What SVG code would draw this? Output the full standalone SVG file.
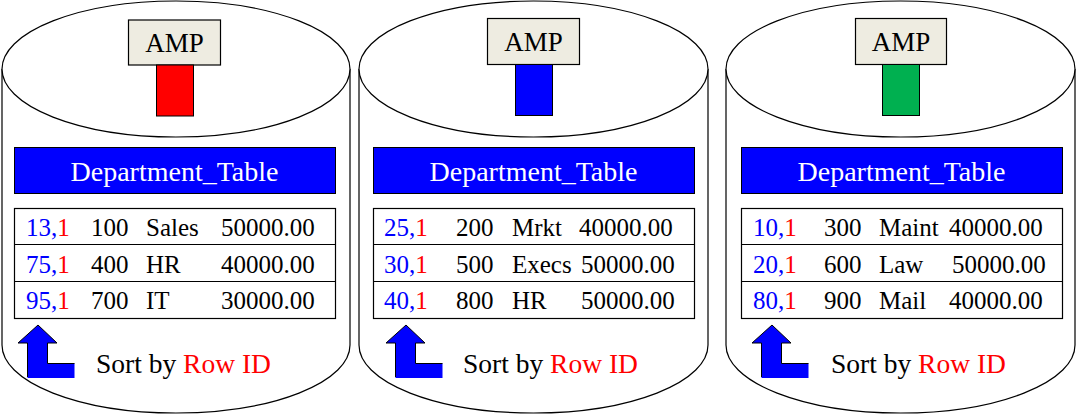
<svg xmlns="http://www.w3.org/2000/svg" width="1076" height="414" viewBox="0 0 1076 414" font-family="'Liberation Serif', 'Times New Roman', 'DejaVu Serif', serif">
<style>
.cyl{fill:#fff;stroke:#000;stroke-width:1.2}
.amp{fill:#EEECE1;stroke:#000;stroke-width:1.2}
.hdr{fill:#0000FF;stroke:#000;stroke-width:1}
.tbl{fill:#fff;stroke:#000;stroke-width:1.2}
.ln{stroke:#000;stroke-width:1.2}
.t-amp{font-size:27px;fill:#000;text-anchor:middle}
.t-hdr{font-size:28px;fill:#fff;text-anchor:middle}
.t-row{font-size:25px;fill:#000}
.b{fill:#0000FF}
.r{fill:#FF0000}
.t-sort{font-size:27.5px;fill:#000}
.arw{fill:#0000FF;stroke:none}
.arwl{fill:none;stroke:#000;stroke-width:1}
</style>
<defs>
<g id="arrow">
<polygon class="arw" points="0,0 19,18 9.5,18 9.5,38.5 36.5,38.5 36.5,53 -10.5,53 -10.5,18 -20,18"/>
<polyline class="arwl" points="-10.5,52 -10.5,18 -20,18 0,0 19,18 9.5,18 9.5,38.5 36.5,38.5"/>
</g>
</defs>

<g id="node-amp1">
<path class="cyl" d="M2,69 L2,345 A174,68 0 0 0 350,345 L350,69"/>
<ellipse class="cyl" cx="176" cy="69" rx="174" ry="68"/>
<rect class="amp" x="128.5" y="20" width="92" height="45"/>
<text class="t-amp" x="174.5" y="52">AMP</text>
<rect x="156.5" y="65" width="37" height="51" fill="#FF0000" stroke="#000" stroke-width="1"/>
<rect class="hdr" x="14.5" y="147.5" width="321" height="46"/>
<text class="t-hdr" x="174.5" y="181">Department_Table</text>
<rect class="tbl" x="14.5" y="208.5" width="321" height="110"/>
<line class="ln" x1="14.5" y1="244.5" x2="335.5" y2="244.5"/>
<line class="ln" x1="14.5" y1="281.5" x2="335.5" y2="281.5"/>
<text class="t-row" y="236"><tspan x="26" class="b">13,</tspan><tspan class="r">1</tspan><tspan x="91">100</tspan><tspan x="146">Sales</tspan><tspan x="221">50000.00</tspan></text>
<text class="t-row" y="273"><tspan x="26" class="b">75,</tspan><tspan class="r">1</tspan><tspan x="91">400</tspan><tspan x="146">HR</tspan><tspan x="221">40000.00</tspan></text>
<text class="t-row" y="309"><tspan x="26" class="b">95,</tspan><tspan class="r">1</tspan><tspan x="91">700</tspan><tspan x="146">IT</tspan><tspan x="221">30000.00</tspan></text>
<use href="#arrow" x="38" y="325"/>
<text class="t-sort" x="96" y="373">Sort by <tspan class="r">Row ID</tspan></text>
</g>

<g id="node-amp2">
<path class="cyl" d="M359,69 L359,345 A174.5,68 0 0 0 708,345 L708,69"/>
<ellipse class="cyl" cx="533.5" cy="69" rx="174.5" ry="68"/>
<rect class="amp" x="487.5" y="18.5" width="92" height="46"/>
<text class="t-amp" x="533.5" y="51">AMP</text>
<rect x="515.5" y="64.5" width="37" height="51" fill="#0000FF" stroke="#000" stroke-width="1"/>
<rect class="hdr" x="373.5" y="147.5" width="321" height="46"/>
<text class="t-hdr" x="533.5" y="181">Department_Table</text>
<rect class="tbl" x="373.5" y="208.5" width="321" height="110"/>
<line class="ln" x1="373.5" y1="244.5" x2="694.5" y2="244.5"/>
<line class="ln" x1="373.5" y1="281.5" x2="694.5" y2="281.5"/>
<text class="t-row" y="236"><tspan x="384" class="b">25,</tspan><tspan class="r">1</tspan><tspan x="456">200</tspan><tspan x="512">Mrkt</tspan><tspan x="579">40000.00</tspan></text>
<text class="t-row" y="273"><tspan x="384" class="b">30,</tspan><tspan class="r">1</tspan><tspan x="456">500</tspan><tspan x="512">Execs</tspan><tspan x="581">50000.00</tspan></text>
<text class="t-row" y="309"><tspan x="384" class="b">40,</tspan><tspan class="r">1</tspan><tspan x="456">800</tspan><tspan x="512">HR</tspan><tspan x="581">50000.00</tspan></text>
<use href="#arrow" x="406" y="325"/>
<text class="t-sort" x="463" y="373">Sort by <tspan class="r">Row ID</tspan></text>
</g>

<g id="node-amp3">
<path class="cyl" d="M726,69 L726,345 A174.5,68 0 0 0 1075,345 L1075,69"/>
<ellipse class="cyl" cx="900.5" cy="69" rx="174.5" ry="68"/>
<rect class="amp" x="855.5" y="18.5" width="91" height="46"/>
<text class="t-amp" x="901" y="51">AMP</text>
<rect x="882.5" y="64.5" width="37" height="51" fill="#00B050" stroke="#000" stroke-width="1"/>
<rect class="hdr" x="741.5" y="147.5" width="321" height="46"/>
<text class="t-hdr" x="901.5" y="181">Department_Table</text>
<rect class="tbl" x="741.5" y="208.5" width="321" height="110"/>
<line class="ln" x1="741.5" y1="244.5" x2="1062.5" y2="244.5"/>
<line class="ln" x1="741.5" y1="281.5" x2="1062.5" y2="281.5"/>
<text class="t-row" y="236"><tspan x="753" class="b">10,</tspan><tspan class="r">1</tspan><tspan x="824">300</tspan><tspan x="879">Maint</tspan><tspan x="949">40000.00</tspan></text>
<text class="t-row" y="273"><tspan x="753" class="b">20,</tspan><tspan class="r">1</tspan><tspan x="824">600</tspan><tspan x="879">Law</tspan><tspan x="952">50000.00</tspan></text>
<text class="t-row" y="309"><tspan x="753" class="b">80,</tspan><tspan class="r">1</tspan><tspan x="824">900</tspan><tspan x="879">Mail</tspan><tspan x="949">40000.00</tspan></text>
<use href="#arrow" x="772" y="325"/>
<text class="t-sort" x="831" y="373">Sort by <tspan class="r">Row ID</tspan></text>
</g>

<g id="connectors"></g>
</svg>
